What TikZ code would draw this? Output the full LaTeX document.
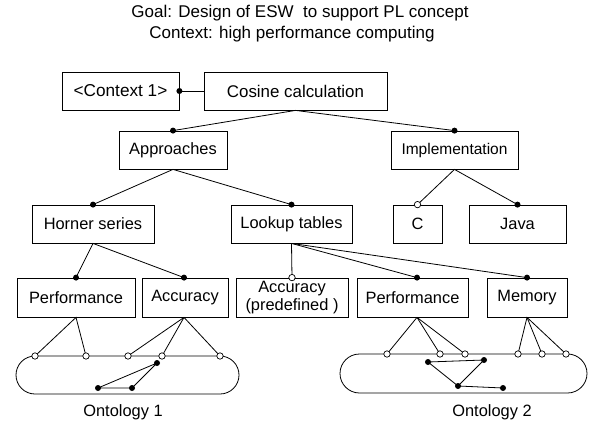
\documentclass[tikz,border=0pt]{standalone}
\usepackage{fontspec}
\setmainfont{Liberation Sans}
\newcommand{\fsbox}{\fontsize{16.4}{18}\selectfont}
\newcommand{\fsbig}{\fontsize{16.9}{19}\selectfont}
\newcommand{\fssmall}{\fontsize{15.5}{18}\selectfont}
\begin{document}
\begin{tikzpicture}[x=1pt,y=-1pt,
  box/.style={draw, line width=0.8pt, inner sep=0pt, font=\fsbox, minimum height=38pt},
  dot/.style={circle, fill=black, inner sep=0pt, minimum size=6pt},
  odot/.style={circle, draw, fill=white, line width=0.7pt, inner sep=0pt, minimum size=6.4pt},
  conn/.style={line width=0.8pt},
  ont/.style={draw, line width=0.8pt, inner sep=0pt, minimum height=38pt, rounded corners=19pt},
  lbl/.style={inner sep=0pt, font=\fsbox}
]
\useasboundingbox (0,0) rectangle (589,423);

% titles
\node[lbl, font=\fontsize{17}{19}\selectfont] (t1) at (300,13) {Goal: Design of ESW\ \ to support PL concept};
\node[lbl, font=\fontsize{17}{19}\selectfont] (t2) at (292,34) {Context: high performance computing};

% boxes
\node[box, minimum width=117pt, font=\fontsize{17.2}{19}\selectfont] (ctx) at (120.5,91) {<Context 1>};
\node[box, minimum width=183pt, font=\fsbig] (cos) at (295.5,91) {Cosine calculation};
\node[box, minimum width=108pt] (appr) at (173,150) {Approaches};
\node[box, minimum width=127pt, font=\fssmall] (impl) at (454.5,150) {Implementation};
\node[box, minimum width=122pt] (horn) at (93,224) {Horner series};
\node[box, minimum width=121pt] (look) at (291.5,224) {Lookup tables};
\node[box, minimum width=49pt] (cc) at (417.5,224) {C};
\node[box, minimum width=97pt] (java) at (517.5,224) {Java};
\node[box, minimum width=118pt, minimum height=39pt] (perfa) at (76,297.5) {Performance};
\node[box, minimum width=86pt, minimum height=39pt] (acca) at (185,297.5) {Accuracy};
\node[box, minimum width=112pt, minimum height=39pt, align=center] (accb) at (292,297.5) {Accuracy\\(predefined )};
\node[box, minimum width=111pt, minimum height=39pt] (perfb) at (412.5,297.5) {Performance};
\node[box, minimum width=80pt, minimum height=39pt] (mem) at (527,297.5) {Memory};

% ontologies
\node[ont, minimum width=223pt] (ont1) at (127.5,375) {};
\node[ont, minimum width=247pt, minimum height=39pt, rounded corners=19.5pt] (ont2) at (463.5,373.5) {};
\node[lbl] (l1) at (123,412) {Ontology 1};
\node[lbl] (l2) at (492,412) {Ontology 2};

% attachment points
\coordinate (pctx) at (ctx.east);
\coordinate (pappr) at (appr.north);
\coordinate (pimpl) at (impl.north);
\coordinate (phorn) at (horn.north);
\coordinate (plook) at (look.north);
\coordinate (pcc) at (cc.north);
\coordinate (pjava) at (java.north);
\coordinate (pperfa) at (perfa.north);
\coordinate (pacca) at ([xshift=-1pt]acca.north);
\coordinate (paccb) at (accb.north);
\coordinate (pperfb) at ([xshift=4.5pt]perfb.north);
\coordinate (pmem) at (mem.north);
\coordinate (sperfb) at ([xshift=4.5pt]perfb.south);
\coordinate (sacca) at ([xshift=-1pt]acca.south);

% ontology 1 points
\coordinate (oa1) at (35,356);
\coordinate (oa2) at (86,356);
\coordinate (oa3) at (128,356);
\coordinate (oa4) at (162,356);
\coordinate (oa5) at (220,356);
\coordinate (ia1) at (157,363);
\coordinate (ia2) at (98,388);
\coordinate (ia3) at (132,388);
% ontology 2 points
\coordinate (ob1) at (387,354);
\coordinate (ob2) at (440,354);
\coordinate (ob3) at (465,354);
\coordinate (ob4) at (518,354);
\coordinate (ob5) at (542,354);
\coordinate (ob6) at (566,354);
\coordinate (ib1) at (428,362);
\coordinate (ib2) at (484,360);
\coordinate (ib3) at (458,386);
\coordinate (ib4) at (503,388);

% connectors
\draw[conn] (pctx) -- (cos.west);
\draw[conn] (pappr) -- (cos.south) -- (pimpl);
\draw[conn] (phorn) -- (appr.south) -- (plook);
\draw[conn] (pcc) -- (impl.south) -- (pjava);
\draw[conn] (pperfa) -- (horn.south) -- (pacca);
\draw[conn] (paccb) -- (look.south);
\draw[conn] (look.south) -- (pperfb);
\draw[conn] (look.south) -- (pmem);
\draw[conn] (oa1) -- (perfa.south) -- (oa2);
\draw[conn] (oa3) -- (sacca) -- (oa5);
\draw[conn] (sacca) -- (oa4);
\draw[conn] (ob1) -- (sperfb) -- (ob3);
\draw[conn] (sperfb) -- (ob2);
\draw[conn] (ob4) -- (mem.south) -- (ob6);
\draw[conn] (mem.south) -- (ob5);
\draw[conn] (ia1) -- (ia2) -- (ia3) -- cycle;
\draw[conn] (ib1) -- (ib2) -- (ib3) -- cycle;
\draw[conn] (ib3) -- (ib4);

% markers
\foreach \p in {pctx,pappr,pimpl,phorn,plook,pjava,pperfa,pacca,pperfb,pmem,ia1,ia2,ia3,ib1,ib2,ib3,ib4}
  \node[dot] at (\p) {};
\foreach \p in {pcc,paccb,oa1,oa2,oa3,oa4,oa5,ob1,ob2,ob3,ob4,ob5,ob6}
  \node[odot] at (\p) {};
\end{tikzpicture}
\end{document}
